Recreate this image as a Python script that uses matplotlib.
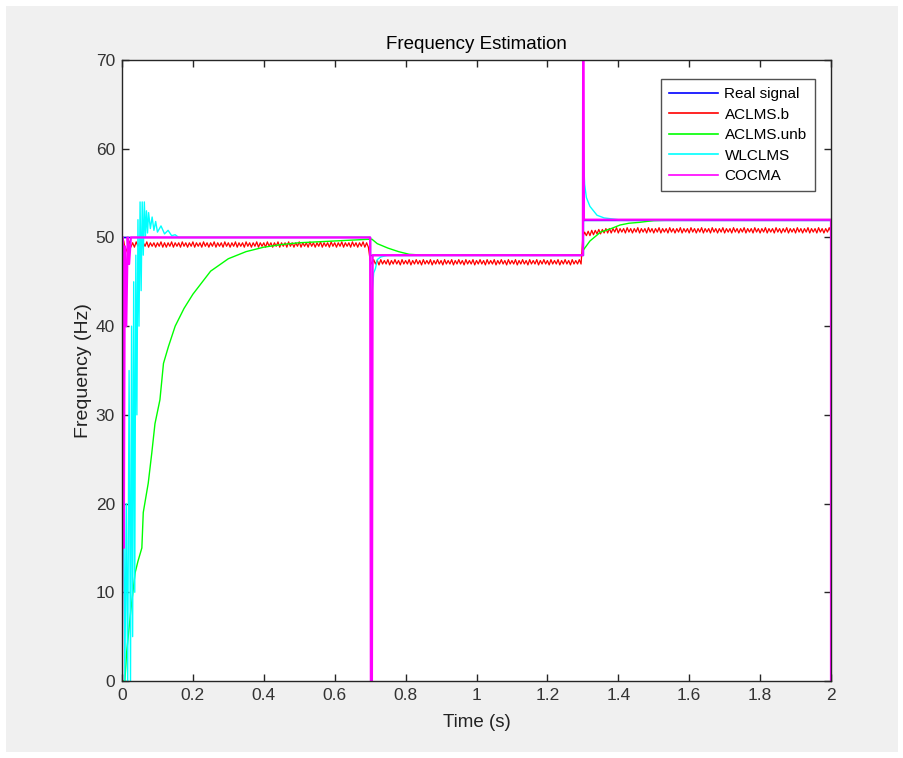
import numpy as np
import matplotlib
matplotlib.use("Agg")
import matplotlib.pyplot as plt
from matplotlib.patches import Rectangle

plt.rcParams['font.family'] = ['Liberation Sans', 'DejaVu Sans']

# ---------------- data ----------------
labels = ["Real signal", "ACLMS.b", "ACLMS.unb", "WLCLMS", "COCMA"]
colors = ["#0000ff", "#ff0000", "#00ff00", "#00ffff", "#ff00ff"]

real_t = [0.0, 0.7, 0.7, 1.3, 1.3, 2.0]
real_f = [50, 50, 48, 48, 52, 52]

# ACLMS.b sampled every 0.005 s from 0 to 2.0 s (one row = 0.1 s)
aclms_b_f = [
    50.0, 49.6, 48.3, 48.8, 49.6, 48.9, 49.4, 48.9, 49.5, 49.0, 49.4, 48.9, 49.4, 49.0, 49.5, 48.9, 49.4, 49.0, 49.4, 48.9,
    49.4, 49.0, 49.5, 48.9, 49.4, 48.9, 49.4, 49.0, 49.5, 48.9, 49.4, 49.0, 49.4, 48.9, 49.5, 49.0, 49.4, 48.9, 49.4, 49.0,
    49.5, 48.9, 49.4, 49.0, 49.4, 48.9, 49.5, 49.0, 49.4, 48.9, 49.4, 49.0, 49.5, 48.9, 49.4, 49.0, 49.4, 48.9, 49.5, 49.0,
    49.4, 48.9, 49.4, 49.0, 49.5, 48.9, 49.4, 49.0, 49.4, 48.9, 49.5, 49.0, 49.4, 48.9, 49.4, 49.0, 49.5, 48.9, 49.4, 49.0,
    49.4, 48.9, 49.5, 49.0, 49.4, 48.9, 49.4, 49.0, 49.5, 48.9, 49.4, 49.0, 49.4, 48.9, 49.5, 49.0, 49.4, 48.9, 49.4, 49.0,
    49.5, 48.9, 49.4, 49.0, 49.4, 48.9, 49.5, 49.0, 49.4, 48.9, 49.4, 49.0, 49.5, 48.9, 49.4, 49.0, 49.4, 48.9, 49.5, 49.0,
    49.4, 48.9, 49.4, 49.0, 49.5, 48.9, 49.4, 49.0, 49.4, 48.9, 49.5, 49.0, 49.4, 48.9, 49.4, 49.0, 49.5, 48.9, 49.4, 48.9,
    47.4, 47.0, 47.5, 47.0, 47.4, 46.9, 47.5, 47.0, 47.4, 47.0, 47.5, 46.9, 47.4, 47.0, 47.5, 47.0, 47.4, 46.9, 47.5, 47.0,
    47.4, 47.0, 47.5, 46.9, 47.4, 47.0, 47.5, 47.0, 47.4, 46.9, 47.5, 47.0, 47.4, 47.0, 47.5, 46.9, 47.4, 47.0, 47.5, 47.0,
    47.4, 46.9, 47.5, 47.0, 47.4, 47.0, 47.5, 46.9, 47.4, 47.0, 47.5, 47.0, 47.4, 46.9, 47.5, 47.0, 47.4, 47.0, 47.5, 46.9,
    47.4, 47.0, 47.5, 47.0, 47.4, 46.9, 47.5, 47.0, 47.4, 47.0, 47.5, 46.9, 47.4, 47.0, 47.5, 47.0, 47.4, 46.9, 47.5, 47.0,
    47.4, 47.0, 47.5, 46.9, 47.4, 47.0, 47.5, 47.0, 47.4, 46.9, 47.5, 47.0, 47.4, 47.0, 47.5, 46.9, 47.4, 47.0, 47.5, 47.0,
    47.4, 46.9, 47.5, 47.0, 47.4, 47.0, 47.5, 46.9, 47.4, 47.0, 47.5, 47.0, 47.4, 46.9, 47.5, 47.0, 47.4, 47.0, 47.5, 47.0,
    50.1, 50.6, 50.2, 50.7, 50.2, 50.8, 50.3, 50.8, 50.4, 50.9, 50.4, 50.9, 50.5, 51.0, 50.5, 51.0, 50.5, 51.0, 50.6, 51.1,
    50.5, 51.0, 50.6, 51.0, 50.5, 51.1, 50.6, 51.0, 50.5, 51.0, 50.6, 51.1, 50.5, 51.0, 50.6, 51.0, 50.5, 51.1, 50.6, 51.0,
    50.5, 51.0, 50.6, 51.1, 50.5, 51.0, 50.6, 51.0, 50.5, 51.1, 50.6, 51.0, 50.5, 51.0, 50.6, 51.1, 50.5, 51.0, 50.6, 51.0,
    50.5, 51.1, 50.6, 51.0, 50.5, 51.0, 50.6, 51.1, 50.5, 51.0, 50.6, 51.0, 50.5, 51.1, 50.6, 51.0, 50.5, 51.0, 50.6, 51.1,
    50.5, 51.0, 50.6, 51.0, 50.5, 51.1, 50.6, 51.0, 50.5, 51.0, 50.6, 51.1, 50.5, 51.0, 50.6, 51.0, 50.5, 51.1, 50.6, 51.0,
    50.5, 51.0, 50.6, 51.1, 50.5, 51.0, 50.6, 51.0, 50.5, 51.1, 50.6, 51.0, 50.5, 51.0, 50.6, 51.1, 50.5, 51.0, 50.6, 51.0,
    50.5, 51.1, 50.6, 51.0, 50.5, 51.0, 50.6, 51.1, 50.5, 51.0, 50.6, 51.0, 50.5, 51.1, 50.6, 51.0, 50.5, 51.0, 50.6, 51.1,
    50.6,
]

aclms_unb_t = [0.0, 0.008, 0.013, 0.025, 0.037, 0.045, 0.056, 0.060, 0.074,
               0.084, 0.093, 0.107, 0.117, 0.131, 0.15, 0.175, 0.20, 0.25,
               0.30, 0.35, 0.40, 0.45, 0.50, 0.60, 0.70, 0.705, 0.72, 0.75,
               0.78, 0.81, 0.85, 0.90, 1.30, 1.30, 1.32, 1.35, 1.38, 1.405,
               1.43, 1.46, 1.50, 1.60, 2.0]
aclms_unb_f = [0.0, 0.0, 3.2, 8.0, 12.2, 13.5, 15.0, 19.0, 22.3,
               25.7, 29.0, 31.7, 35.8, 37.7, 40.0, 42.0, 43.6, 46.2,
               47.6, 48.4, 48.9, 49.2, 49.4, 49.6, 49.8, 49.8, 49.3, 48.8,
               48.4, 48.1, 48.0, 48.0, 48.0, 48.5, 49.6, 50.6, 51.0, 51.4,
               51.6, 51.7, 51.9, 52.0, 52.0]

wlclms_t = [0.0, 0.004, 0.008, 0.012, 0.016, 0.020, 0.024, 0.027, 0.030,
            0.033, 0.036, 0.039, 0.042, 0.045, 0.048, 0.051, 0.054, 0.057,
            0.060, 0.063, 0.066, 0.069, 0.072, 0.075, 0.080, 0.085, 0.090,
            0.095, 0.100, 0.110, 0.120, 0.130, 0.140, 0.150, 0.160, 0.700,
            0.703, 0.706, 0.710, 0.715, 0.720, 0.730, 0.750, 1.300, 1.301,
            1.305, 1.310, 1.320, 1.330, 1.340, 1.360, 1.400, 2.000]
wlclms_f = [0.0, 28.0, 0.0, 20.0, 0.0, 35.0, 0.0, 40.0, 5.0,
            45.0, 10.0, 48.0, 30.0, 52.0, 40.0, 54.0, 44.0, 54.0,
            48.0, 54.0, 50.0, 53.0, 50.5, 52.8, 51.0, 52.3, 50.8,
            51.8, 50.6, 51.3, 50.4, 50.8, 50.2, 50.3, 50.0, 50.0,
            40.0, 44.0, 46.0, 46.5, 47.5, 47.8, 48.0, 48.0, 60.0,
            56.0, 54.5, 53.5, 53.0, 52.5, 52.2, 52.0, 52.0]

cocma_t = [0.0, 0.002, 0.005, 0.008, 0.012, 0.016, 0.020, 0.025, 0.700,
           0.702, 0.705, 0.707, 1.300, 1.301, 1.303, 2.000, 2.000]
cocma_f = [0.0, 50.0, 15.0, 49.0, 40.0, 50.0, 47.0, 50.0, 50.0,
           0.0, 0.0, 48.0, 48.0, 75.0, 52.0, 52.0, 0.0]

x_ticks = [0, 0.2, 0.4, 0.6, 0.8, 1, 1.2, 1.4, 1.6, 1.8, 2]
x_tick_labels = ["0", "0.2", "0.4", "0.6", "0.8", "1", "1.2", "1.4", "1.6", "1.8", "2"]
y_ticks = [0, 10, 20, 30, 40, 50, 60, 70]

# ---------------- figure ----------------
fig = plt.figure(figsize=(9.04, 7.58), dpi=100, facecolor="white")
W, H = 904, 758
fig.patches.append(Rectangle((6 / W, 6 / H), (898 - 6) / W, (752 - 6) / H,
                             transform=fig.transFigure, facecolor="#f0f0f0",
                             edgecolor="none", zorder=-10))

ax = fig.add_axes([122 / W, 1 - 681 / H, (831 - 122) / W, (681 - 60) / H])
ax.set_facecolor("white")

aclms_b_t = np.round(np.arange(len(aclms_b_f)) * 0.005, 3)

ax.plot(real_t, real_f, color=colors[0], lw=1.0, label=labels[0])
ax.plot(aclms_b_t, aclms_b_f, color=colors[1], lw=0.9, label=labels[1])
ax.plot(aclms_unb_t, aclms_unb_f, color=colors[2], lw=1.0, label=labels[2])
ax.plot(wlclms_t, wlclms_f, color=colors[3], lw=1.0, label=labels[3])
ax.plot(cocma_t, cocma_f, color=colors[4], lw=1.6, label=labels[4])

ax.set_xlim(0, 2)
ax.set_ylim(0, 70)
ax.set_xticks(x_ticks)
ax.set_xticklabels(x_tick_labels)
ax.set_yticks(y_ticks)

axis_col = "#262626"
for s in ax.spines.values():
    s.set_color(axis_col)
    s.set_linewidth(1.0)
ax.tick_params(direction="in", length=5, width=1.0, colors=axis_col,
               labelcolor="#333333", labelsize=12.5, top=True, right=True, pad=5)

ax.set_title("Frequency Estimation", fontsize=13.5, color="black", pad=8)
ax.set_xlabel("Time (s)", fontsize=13.5, color="#222222", labelpad=8)
ax.set_ylabel("Frequency (Hz)", fontsize=14, color="#222222", labelpad=3)

leg = ax.legend(loc="upper right", bbox_to_anchor=((815 - 122) / 709, (681 - 79) / 621),
                borderaxespad=0, fancybox=False, frameon=True, fontsize=11,
                handlelength=3.2, handletextpad=0.4, labelspacing=0.42,
                borderpad=0.55)
leg.get_frame().set_edgecolor("#262626")
leg.get_frame().set_linewidth(1.0)
for line in leg.get_lines():
    line.set_linewidth(1.2)

fig.savefig("out.png", dpi=100, facecolor=fig.get_facecolor())
